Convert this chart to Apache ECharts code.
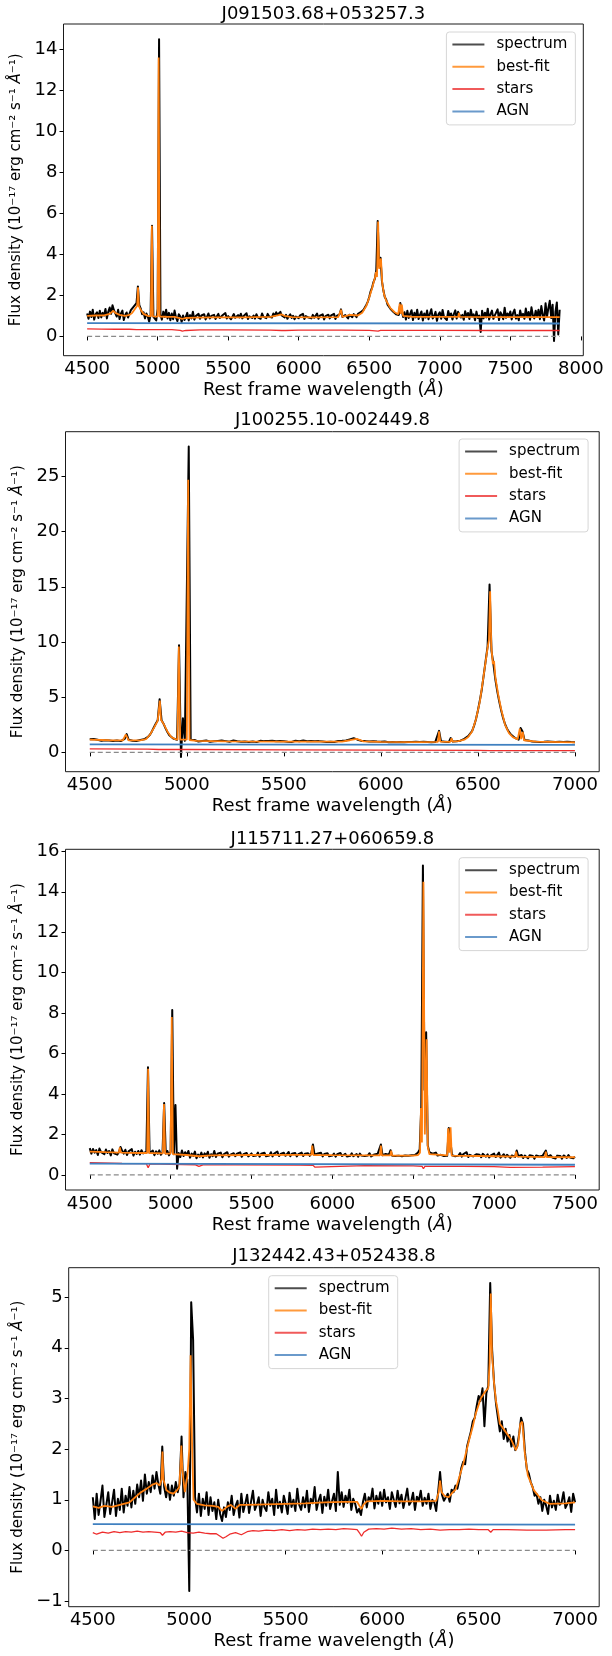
<!DOCTYPE html>
<html><head><meta charset="utf-8">
<script src="https://cdn.jsdelivr.net/npm/echarts@6.0.0/dist/echarts.min.js"></script>
<style>html,body{margin:0;padding:0;background:#fff}#chart{width:612px;height:1656px}</style>
</head><body><div id="chart"></div>
<script>
// ---------------- DATA ----------------
const SPEC_STEP = 10; // Angstrom sampling of the typed spectra
const legendNames = ['spectrum', 'best-fit', 'stars', 'AGN'];

// Panel 1
const p1Title = 'J091503.68+053257.3';
const p1SpecStart = 4500;
const p1Spectrum = [
1.12,0.86,1.21,0.95,1.30,0.82,1.08,1.18,0.90,1.25,
0.93,1.15,1.02,1.34,0.88,1.20,1.41,1.10,1.52,1.28,
1.22,0.97,1.30,0.85,1.12,1.26,0.80,1.05,1.17,0.92,
1.10,1.28,1.22,1.45,1.38,1.62,2.44,1.52,1.36,1.08,
1.18,0.88,1.12,0.97,0.72,1.05,5.40,0.95,1.02,0.78,
1.35,14.5,1.05,0.82,1.21,0.95,1.30,0.88,1.15,0.79,
1.12,0.84,1.26,0.93,0.75,1.08,0.98,0.70,1.02,0.80,
0.96,1.15,0.78,1.04,0.88,1.20,0.82,0.99,0.91,1.10,
0.86,1.02,0.94,1.08,0.83,0.97,1.12,0.88,1.00,0.92,
1.05,0.85,0.98,1.10,0.90,0.82,1.03,0.95,1.14,0.87,
0.99,1.07,0.84,0.96,1.09,0.91,0.86,1.04,0.93,1.11,
0.88,1.00,0.95,1.13,0.85,0.98,1.06,0.90,1.02,0.87,
1.08,0.93,0.99,0.86,1.12,0.95,1.03,0.89,1.10,0.97,
1.04,0.92,1.12,1.00,1.18,1.06,1.14,1.20,1.02,1.10,
0.93,1.05,0.86,0.98,1.08,0.90,1.01,0.84,0.97,1.06,
0.89,1.03,0.94,1.10,0.85,0.99,1.07,0.92,1.00,0.88,
1.05,0.91,0.97,1.12,0.86,1.01,0.94,1.08,0.83,0.99,
0.92,1.06,0.88,1.03,0.97,1.10,0.85,1.00,0.93,1.08,
1.32,0.95,0.90,1.04,0.96,0.88,1.06,0.99,0.94,1.09,
1.02,0.94,1.10,1.05,1.18,1.12,1.30,1.26,1.55,1.70,
1.92,2.20,2.38,2.65,2.82,3.25,5.63,3.45,3.84,2.70,
2.25,1.92,1.80,1.55,1.50,1.35,1.33,1.20,1.22,1.08,
1.12,1.05,1.63,1.55,0.95,1.18,0.82,1.25,0.90,1.10,
1.28,0.80,1.15,0.93,1.30,0.85,1.05,1.22,0.78,1.12,
0.92,1.26,0.84,1.10,1.33,0.88,0.99,1.20,0.76,1.07,
1.18,0.86,1.29,0.95,1.04,0.80,1.24,0.98,1.12,0.83,
1.09,1.27,0.87,1.20,1.15,0.92,1.05,0.81,1.23,0.96,
1.14,0.85,1.30,0.97,1.08,0.79,1.21,0.90,1.02,0.22,
1.25,0.88,1.16,0.93,1.35,0.82,1.09,1.26,0.86,1.03,
0.95,1.32,0.80,1.18,1.06,0.84,1.40,0.91,1.12,0.98,
1.22,0.83,1.15,1.31,0.87,1.04,0.79,1.27,0.96,1.10,
0.86,1.36,0.94,1.19,0.81,1.42,1.02,0.88,1.25,0.97,
1.30,0.84,1.48,1.05,0.78,1.62,0.95,1.38,1.74,0.90,
1.55,-0.22,1.20,1.66,0.10,1.30];
const p1Fit = [[4500,1.0],[4560,1.02],[4620,1.03],[4660,1.1],[4686,1.25],[4700,1.15],[4730,1.05],[4770,1.0],[4800,1.05],[4820,1.15],[4840,1.35],[4855,1.5],[4861,2.4],[4867,1.48],[4880,1.3],[4900,1.1],[4930,1.0],[4952,0.98],[4959,5.4],[4966,0.98],[5000,0.97],[5007,13.6],[5014,0.97],[5060,0.96],[5120,0.95],[5175,0.86],[5200,0.9],[5260,0.92],[5400,0.93],[5600,0.93],[5800,0.95],[5850,1.03],[5876,1.08],[5900,1.0],[5950,0.94],[6100,0.93],[6280,0.94],[6300,1.3],[6310,0.95],[6364,1.05],[6372,0.96],[6420,1.02],[6450,1.15],[6480,1.5],[6500,1.9],[6520,2.35],[6540,2.85],[6548,3.15],[6555,2.9],[6563,5.6],[6570,3.3],[6583,3.8],[6592,2.6],[6605,2.05],[6620,1.75],[6650,1.38],[6680,1.18],[6705,1.08],[6716,1.6],[6723,1.1],[6731,1.55],[6740,1.0],[6800,0.96],[7000,0.95],[7130,0.95],[7136,1.15],[7142,0.95],[7500,0.94],[7850,0.94]];
const p1Stars = [[4500,0.37],[4600,0.36],[4700,0.35],[4800,0.35],[4850,0.33],[4861,0.26],[4872,0.33],[5000,0.33],[5100,0.33],[5160,0.3],[5175,0.26],[5200,0.29],[5300,0.32],[5500,0.32],[5800,0.31],[5880,0.29],[5893,0.23],[5905,0.29],[6000,0.31],[6300,0.31],[6500,0.3],[6563,0.26],[6580,0.3],[7000,0.3],[7400,0.29],[7850,0.29]];
const p1Agn = [[4500,0.65],[7850,0.63]];
const p1Zero = [[4500,0],[7850,0]];
const p1XTicks = [4500,5000,5500,6000,6500,7000,7500,8000];
const p1YTicks = [0,2,4,6,8,10,12,14];

// Panel 2
const p2Title = 'J100255.10-002449.8';
const p2SpecStart = 4500;
const p2Spectrum = [
1.18,1.12,1.22,1.08,1.15,1.20,1.05,1.16,1.10,1.19,
1.08,1.14,1.04,1.12,1.07,1.13,1.02,1.10,1.22,1.66,
1.15,1.09,1.05,1.11,1.03,1.08,1.12,1.06,1.18,1.25,
1.40,1.60,1.90,2.25,2.60,2.90,4.82,2.90,2.60,2.20,
1.85,1.55,1.38,1.25,1.18,1.15,9.70,-0.42,3.10,1.05,
1.20,27.7,1.15,1.02,1.12,1.05,0.98,1.10,1.04,0.99,
1.08,1.01,0.96,1.06,1.00,0.93,1.04,0.98,1.07,0.95,
1.02,1.06,0.97,1.01,1.08,0.94,1.00,1.05,0.96,1.02,
0.99,1.04,0.95,1.03,0.98,1.07,0.93,1.00,1.05,0.97,
1.02,0.96,1.04,0.99,1.06,0.94,1.01,0.97,1.03,0.95,
1.00,1.04,0.96,1.02,0.94,0.99,1.05,0.97,1.01,0.95,
1.08,0.96,1.01,0.94,1.03,0.98,1.00,0.95,1.02,0.97,
0.99,1.03,0.95,1.00,0.97,1.02,0.94,0.99,1.03,1.01,
1.05,1.00,1.08,1.12,1.18,1.22,1.28,1.20,1.15,1.08,
1.04,0.98,1.02,0.95,0.99,0.93,1.01,0.96,0.98,0.94,
0.97,0.93,0.99,0.95,0.92,0.98,0.94,0.96,0.91,0.97,
0.93,0.96,0.92,0.98,0.94,0.90,0.95,0.93,0.97,0.91,
0.95,0.92,0.96,0.90,0.94,0.97,0.92,0.95,0.93,1.02,
1.95,1.00,0.94,0.97,0.95,0.93,1.30,0.98,0.96,1.00,
1.02,1.06,1.12,1.22,1.32,1.48,1.65,1.92,2.40,3.00,
3.8,4.7,5.7,7.0,8.3,9.6,15.2,9.2,8.0,6.6,
5.5,4.6,3.8,3.1,2.55,2.15,1.85,1.62,1.45,1.32,
1.22,1.15,2.20,1.90,1.12,1.05,1.08,1.02,0.98,1.04,
0.97,1.03,0.95,1.00,0.96,0.92,0.99,0.94,0.97,0.93,
0.95,0.91,0.96,0.89,0.94,0.92,0.97,0.88,0.93,0.90,
0.92];
const p2Fit = [[4500,1.15],[4600,1.1],[4670,1.08],[4686,1.62],[4700,1.08],[4760,1.08],[4790,1.2],[4810,1.6],[4830,2.2],[4850,2.85],[4855,2.95],[4861,4.7],[4867,2.95],[4880,2.6],[4900,1.9],[4920,1.4],[4940,1.2],[4952,1.15],[4959,9.6],[4966,1.15],[5000,1.15],[5007,24.7],[5014,1.12],[5050,1.05],[5200,1.0],[5500,0.98],[5800,0.98],[5840,1.1],[5876,1.22],[5910,1.0],[6000,0.95],[6200,0.93],[6294,0.95],[6300,1.9],[6306,0.97],[6358,0.96],[6364,1.28],[6370,0.97],[6400,1.02],[6430,1.15],[6450,1.4],[6470,1.9],[6490,3.0],[6510,4.6],[6530,7.0],[6550,9.5],[6557,10.2],[6563,14.6],[6569,9.6],[6577,8.0],[6583,8.3],[6590,6.8],[6605,5.2],[6620,3.9],[6640,2.5],[6660,1.75],[6680,1.38],[6705,1.18],[6716,2.15],[6723,1.2],[6731,1.85],[6738,1.1],[6800,0.98],[7000,0.9]];
const p2Stars = [[4500,0.31],[4800,0.29],[4855,0.26],[4861,0.2],[4870,0.27],[5000,0.26],[5500,0.22],[6000,0.2],[6500,0.18],[6563,0.16],[7000,0.16]];
const p2Agn = [[4500,0.72],[7000,0.68]];
const p2Zero = [[4500,0],[7000,0]];
const p2XTicks = [4500,5000,5500,6000,6500,7000];
const p2YTicks = [0,5,10,15,20,25];

// Panel 3
const p3Title = 'J115711.27+060659.8';
const p3SpecStart = 4500;
const p3Spectrum = [
1.32,1.05,1.28,1.10,1.22,0.98,1.30,1.12,1.20,1.02,
1.25,1.08,1.18,0.96,1.26,1.06,1.15,1.00,1.12,1.38,
1.20,1.05,1.24,0.98,1.16,1.08,1.27,0.95,1.14,1.03,
1.18,1.00,1.22,1.06,1.10,1.15,5.32,1.08,1.00,1.20,
0.97,1.16,1.04,1.21,0.99,1.12,3.55,1.05,1.18,0.96,
1.15,8.15,1.02,3.45,0.30,1.08,0.88,1.20,0.93,1.12,
0.98,1.18,0.85,1.05,0.94,1.15,0.82,1.00,0.90,1.10,
0.86,1.06,0.95,1.14,0.84,1.02,0.92,1.18,0.88,1.04,
0.96,1.10,0.87,1.03,0.97,1.12,0.90,1.00,0.94,1.07,
0.92,1.05,0.98,1.11,0.89,1.02,0.95,1.08,0.91,1.00,
1.06,0.93,1.02,0.96,1.10,0.90,1.04,0.97,1.09,0.92,
1.01,0.95,1.12,0.91,1.05,0.98,1.15,0.93,1.03,0.96,
1.09,0.94,1.00,1.13,0.92,1.04,0.97,1.08,0.91,1.02,
0.98,1.10,0.93,1.04,0.96,1.07,0.94,1.08,1.50,1.00,
0.94,1.06,0.97,1.09,0.91,1.03,0.96,1.07,0.92,1.01,
0.95,1.05,0.90,1.02,0.97,1.08,0.93,0.99,1.04,0.91,
1.00,0.94,1.06,0.92,0.98,1.03,0.90,1.05,0.95,0.99,
0.93,1.02,0.96,1.07,0.91,0.98,1.01,0.94,1.04,0.96,
1.50,0.97,0.92,1.03,0.95,1.00,1.22,0.94,0.99,0.93,
1.02,0.95,0.98,0.92,1.01,0.96,0.99,0.94,1.00,0.97,
1.02,0.98,1.05,1.10,1.25,3.40,15.30,4.20,7.05,1.45,
1.12,1.20,1.05,0.98,1.10,0.96,1.04,0.99,1.07,0.93,
1.00,0.94,2.32,2.40,0.97,1.06,0.92,1.01,0.95,1.08,
0.90,1.03,0.94,1.12,0.88,0.99,1.05,0.91,0.97,1.02,
0.93,0.99,0.87,1.04,0.95,0.90,1.01,0.86,0.96,0.92,
1.05,0.88,0.97,1.10,0.85,0.94,1.02,0.87,0.99,0.91,
0.84,0.96,1.02,0.89,1.20,0.92,0.86,0.98,0.83,0.95,
0.90,0.82,0.97,0.88,0.93,0.80,0.96,0.87,0.91,0.85,
0.94,0.88,1.20,0.90,0.83,0.97,0.86,0.92,0.81,0.95,
0.87,0.93,0.80,0.96,0.89,0.84,0.98,0.86,0.91,0.82,
0.90];
const p3Fit = [[4500,1.15],[4600,1.12],[4680,1.1],[4686,1.36],[4692,1.1],[4800,1.08],[4855,1.08],[4861,5.25],[4867,1.08],[4952,1.06],[4959,3.5],[4966,1.05],[5000,1.05],[5007,7.8],[5014,1.02],[5100,0.98],[5175,0.92],[5250,0.96],[5500,0.98],[5800,0.99],[5870,0.99],[5876,1.45],[5882,0.98],[6000,0.97],[6294,0.96],[6300,1.45],[6306,0.96],[6358,0.96],[6364,1.2],[6370,0.95],[6500,0.95],[6530,0.98],[6542,1.1],[6548,3.3],[6554,1.6],[6563,14.5],[6572,2.0],[6583,6.7],[6590,1.4],[6600,1.02],[6710,0.96],[6716,2.3],[6723,1.1],[6731,2.35],[6738,0.95],[7000,0.92],[7130,0.9],[7136,1.15],[7142,0.9],[7314,0.88],[7320,1.15],[7326,0.88],[7500,0.87]];
const p3Stars = [[4500,0.6],[4700,0.56],[4850,0.55],[4861,0.35],[4872,0.54],[5000,0.52],[5150,0.5],[5175,0.42],[5200,0.49],[5400,0.5],[5800,0.48],[5880,0.47],[5893,0.38],[5905,0.47],[6200,0.46],[6500,0.44],[6555,0.42],[6563,0.3],[6572,0.42],[6800,0.42],[7000,0.41],[7100,0.37],[7300,0.38],[7500,0.41]];
const p3Agn = [[4500,0.55],[7500,0.5]];
const p3Zero = [[4500,0],[7500,0]];
const p3XTicks = [4500,5000,5500,6000,6500,7000,7500];
const p3YTicks = [0,2,4,6,8,10,12,14,16];

// Panel 4
const p4Title = 'J132442.43+052438.8';
const p4SpecStart = 4500;
const p4Spectrum = [
1.05,0.62,1.12,0.70,0.98,1.28,0.66,0.90,1.15,0.72,
0.95,1.20,0.68,1.02,0.80,1.22,0.75,1.08,0.88,1.25,
0.85,1.18,0.92,1.30,1.05,1.38,0.98,1.50,1.12,1.35,
1.15,1.48,1.22,1.55,1.30,1.12,2.05,1.25,1.05,1.30,
1.00,1.28,1.08,1.35,1.15,1.32,2.25,1.05,1.55,1.40,
-0.80,4.90,4.15,1.05,0.75,1.12,0.68,1.02,0.82,1.15,
0.70,1.05,0.78,0.95,0.62,1.00,0.72,0.58,0.85,0.66,
0.95,0.80,1.08,0.70,0.88,0.98,0.65,1.12,0.76,0.92,
1.10,0.74,0.96,1.18,0.80,0.90,1.05,0.68,1.00,0.85,
0.78,1.15,0.88,1.02,0.70,1.20,0.84,0.96,0.75,1.08,
0.92,0.72,1.14,0.86,1.00,0.78,1.22,0.90,0.80,1.05,
0.85,1.18,0.76,1.02,0.93,1.25,0.80,0.98,1.10,0.74,
1.06,0.88,1.20,0.82,0.97,1.12,0.78,1.55,0.90,1.15,
0.86,1.08,0.94,1.20,0.80,1.02,0.92,0.75,0.82,0.70,
0.95,1.12,0.85,1.05,0.98,1.22,0.83,1.08,0.92,1.15,
0.88,1.20,0.95,1.05,0.82,1.15,1.00,0.86,1.18,0.93,
1.10,0.84,1.02,1.22,0.90,0.96,1.14,0.80,1.06,0.98,
1.18,0.88,1.04,0.92,1.12,0.82,1.00,0.95,0.78,1.15,
1.55,1.10,0.98,1.05,1.12,0.96,1.20,1.15,1.28,1.22,
1.40,1.62,1.75,1.70,2.05,2.20,2.35,2.55,2.62,2.85,
3.05,2.95,3.20,2.45,3.10,3.25,5.28,3.95,3.30,2.90,
2.62,2.35,2.55,2.20,2.40,2.15,2.28,2.05,2.25,1.98,
2.05,2.30,2.62,2.50,1.95,1.60,1.52,1.35,1.25,1.08,
1.12,0.92,1.05,0.78,1.00,0.88,0.72,1.08,0.85,0.98,
0.80,1.10,0.90,0.95,1.15,0.84,0.92,1.05,0.76,1.12,
0.95];
const p4Fit = [[4500,0.87],[4530,0.84],[4560,0.88],[4600,0.86],[4640,0.9],[4690,0.95],[4720,1.05],[4750,1.15],[4780,1.22],[4810,1.3],[4830,1.33],[4847,1.28],[4856,1.4],[4861,1.95],[4866,1.4],[4882,1.19],[4900,1.14],[4917,1.12],[4935,1.18],[4948,1.25],[4955,1.7],[4959,2.07],[4964,1.6],[4977,1.15],[4990,1.45],[5000,2.0],[5007,3.85],[5014,2.2],[5022,1.0],[5040,0.92],[5080,0.89],[5120,0.88],[5150,0.86],[5170,0.78],[5180,0.76],[5195,0.86],[5215,0.9],[5240,0.82],[5260,0.9],[5300,0.9],[5400,0.91],[5500,0.92],[5600,0.93],[5700,0.95],[5800,0.96],[5870,0.96],[5885,0.86],[5893,0.82],[5902,0.9],[5920,0.97],[6000,0.98],[6100,0.97],[6200,0.97],[6280,0.98],[6293,1.15],[6300,1.38],[6308,1.15],[6325,1.07],[6345,1.05],[6364,1.14],[6380,1.2],[6400,1.45],[6420,1.7],[6450,2.17],[6470,2.45],[6485,2.7],[6511,3.0],[6537,3.15],[6550,3.2],[6557,3.7],[6563,5.07],[6569,3.9],[6580,3.3],[6590,2.95],[6600,2.75],[6610,2.5],[6640,2.34],[6670,2.18],[6693,1.98],[6705,2.1],[6716,2.5],[6726,2.54],[6740,1.9],[6755,1.48],[6786,1.19],[6828,0.99],[6869,0.92],[6950,0.93],[7000,0.95]];
const p4Stars = [[4500,0.35],[4520,0.32],[4550,0.36],[4580,0.34],[4610,0.37],[4640,0.35],[4670,0.37],[4700,0.36],[4730,0.38],[4760,0.36],[4790,0.37],[4820,0.36],[4850,0.35],[4861,0.3],[4875,0.36],[4900,0.37],[4930,0.36],[4960,0.38],[4990,0.35],[5020,0.34],[5050,0.36],[5080,0.34],[5110,0.33],[5140,0.33],[5160,0.28],[5175,0.24],[5190,0.27],[5210,0.32],[5240,0.35],[5270,0.31],[5300,0.37],[5330,0.39],[5360,0.38],[5400,0.4],[5440,0.39],[5480,0.41],[5520,0.39],[5560,0.41],[5600,0.4],[5640,0.42],[5680,0.41],[5720,0.42],[5760,0.41],[5800,0.43],[5840,0.42],[5870,0.41],[5885,0.33],[5893,0.28],[5905,0.36],[5930,0.42],[5970,0.43],[6010,0.42],[6050,0.44],[6100,0.42],[6150,0.43],[6200,0.41],[6250,0.42],[6300,0.4],[6350,0.41],[6400,0.41],[6450,0.42],[6500,0.41],[6550,0.41],[6563,0.36],[6575,0.41],[6650,0.41],[6750,0.4],[6850,0.4],[6950,0.41],[7000,0.41]];
const p4Agn = [[4500,0.52],[7000,0.51]];
const p4Zero = [[4500,0],[7000,0]];
const p4XTicks = [4500,5000,5500,6000,6500,7000];
const p4YTicks = [-1,0,1,2,3,4,5];

// ---------------- LAYOUT / STYLE ----------------
const FONT = 'DejaVu Sans';
const COLORS = {spectrum:'#000000', fit:'#ff7f0e', stars:'#ee2c2c', agn:'#3f80c0', zero:'#8a8a8a'};
const panels = [
  {title:p1Title, start:p1SpecStart, spec:p1Spectrum, fit:p1Fit, stars:p1Stars, agn:p1Agn, zero:p1Zero, xTicks:p1XTicks, yTicks:p1YTicks,
   xMin:4332.5, xMax:8017.5, yMin:-0.94, yMax:15.24, grid:{left:63.5, top:24, width:519.8, height:331.7}, tx:323.4, ty:14, lg:{left:446.4, top:32}, yGap:31},
  {title:p2Title, start:p2SpecStart, spec:p2Spectrum, fit:p2Fit, stars:p2Stars, agn:p2Agn, zero:p2Zero, xTicks:p2XTicks, yTicks:p2YTicks,
   xMin:4375, xMax:7125, yMin:-1.75, yMax:29.05, grid:{left:65.5, top:431.7, width:533.7, height:340}, tx:332.4, ty:420.7, lg:{left:459.1, top:439}, yGap:33},
  {title:p3Title, start:p3SpecStart, spec:p3Spectrum, fit:p3Fit, stars:p3Stars, agn:p3Agn, zero:p3Zero, xTicks:p3XTicks, yTicks:p3YTicks,
   xMin:4350, xMax:7650, yMin:-0.75, yMax:16.1, grid:{left:65.5, top:849.3, width:533.7, height:340.7}, tx:332.4, ty:839, lg:{left:459.1, top:857.7}, yGap:33},
  {title:p4Title, start:p4SpecStart, spec:p4Spectrum, fit:p4Fit, stars:p4Stars, agn:p4Agn, zero:p4Zero, xTicks:p4XTicks, yTicks:p4YTicks,
   xMin:4375, xMax:7125, yMin:-1.11, yMax:5.58, grid:{left:68.7, top:1267.7, width:530.5, height:339}, tx:334, ty:1256.7, lg:{left:268.7, top:1275.7}, yGap:36}
];

const fmt = v => String(v).replace('-', '\u2212');
const option = {animation:false, textStyle:{fontFamily:FONT}, title:[], grid:[], xAxis:[], yAxis:[], legend:[], series:[]};

panels.forEach((p, i) => {
  option.title.push({text:p.title, left:p.tx, top:p.ty, textAlign:'center', textVerticalAlign:'middle', padding:0,
    textStyle:{fontFamily:FONT, fontSize:18, fontWeight:'normal', color:'#000'}});
  option.grid.push(Object.assign({show:true, borderColor:'#1a1a1a', borderWidth:1, backgroundColor:'#fff', containLabel:false}, p.grid));
  option.xAxis.push({type:'value', gridIndex:i, min:p.xMin, max:p.xMax,
    name:'Rest frame wavelength ({i|Å})', nameLocation:'middle', nameGap:26,
    nameTextStyle:{fontFamily:FONT, fontSize:18, color:'#000', rich:{i:{fontFamily:FONT, fontSize:18, fontStyle:'italic', color:'#000'}}},
    axisLine:{show:false}, splitLine:{show:false},
    axisTick:{show:true, length:4, lineStyle:{color:'#000', width:1}, customValues:p.xTicks},
    axisLabel:{customValues:p.xTicks, formatter:fmt, fontFamily:FONT, fontSize:18, color:'#000', margin:5}});
  option.yAxis.push({type:'value', gridIndex:i, min:p.yMin, max:p.yMax,
    name:'Flux density (10\u207B\u00B9\u2077 erg cm\u207B\u00B2 s\u207B\u00B9 {i|Å}\u207B\u00B9)', nameLocation:'middle', nameGap:p.yGap, nameRotate:90,
    nameTextStyle:{fontFamily:FONT, fontSize:15, color:'#000', rich:{i:{fontFamily:FONT, fontSize:15, fontStyle:'italic', color:'#000'}}},
    axisLine:{show:false}, splitLine:{show:false},
    axisTick:{show:true, length:4, lineStyle:{color:'#000', width:1}, customValues:p.yTicks},
    axisLabel:{customValues:p.yTicks, formatter:fmt, fontFamily:FONT, fontSize:18, color:'#000', margin:6}});
  option.legend.push({orient:'vertical', left:p.lg.left, top:p.lg.top, icon:'rect', itemWidth:32, itemHeight:2, itemGap:7.3,
    padding:[5,8,6,6], backgroundColor:'#fff', borderColor:'#d6d6d6', borderWidth:1, borderRadius:3, selectedMode:false,
    textStyle:{fontFamily:FONT, fontSize:15, color:'#000', padding:[0,0,0,7]},
    data:[{name:'spectrum', itemStyle:{color:'#4d4d4d'}}, {name:'best-fit', itemStyle:{color:'#ff9a3c'}},
          {name:'stars', itemStyle:{color:'#f05a5a'}}, {name:'AGN', itemStyle:{color:'#6a9acb'}}]});
  const specPairs = p.spec.map((v, k) => [p.start + k * SPEC_STEP, v]);
  const base = {type:'line', xAxisIndex:i, yAxisIndex:i, showSymbol:false, symbol:'none', silent:true, animation:false};
  option.series.push(Object.assign({}, base, {name:'spectrum', data:specPairs, color:COLORS.spectrum, lineStyle:{color:COLORS.spectrum, width:2, join:'round'}}));
  option.series.push(Object.assign({}, base, {name:'best-fit', data:p.fit, color:COLORS.fit, lineStyle:{color:COLORS.fit, width:1.8}}));
  option.series.push(Object.assign({}, base, {name:'stars', data:p.stars, color:COLORS.stars, lineStyle:{color:COLORS.stars, width:1.3}}));
  option.series.push(Object.assign({}, base, {name:'AGN', data:p.agn, color:COLORS.agn, lineStyle:{color:COLORS.agn, width:1.8}}));
  option.series.push(Object.assign({}, base, {name:'zero', data:p.zero, color:COLORS.zero, lineStyle:{color:COLORS.zero, width:1.2, type:[5,3]}}));
});

const chart = echarts.init(document.getElementById('chart'), null, {renderer:'canvas', width:612, height:1656});
chart.setOption(option);
</script></body></html>
